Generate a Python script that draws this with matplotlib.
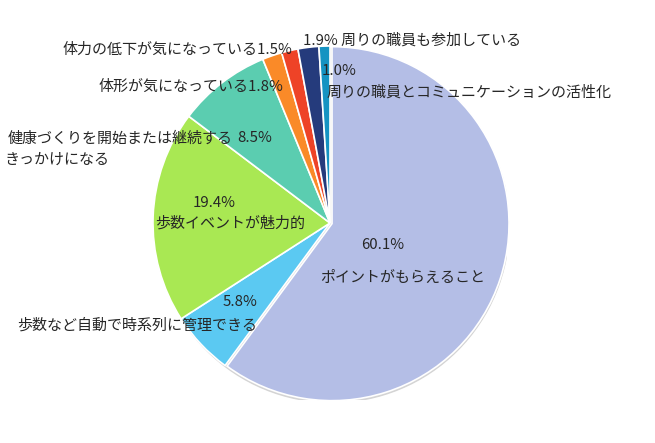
import matplotlib.pyplot as plt
from matplotlib.patches import Circle

plt.rcParams['font.family'] = ['Noto Sans CJK JP', 'DejaVu Sans']

# slices, clockwise from 12 o'clock
labels = ['ポイントがもらえること', '歩数など自動で時系列に管理できる', '歩数イベントが魅力的',
          '健康づくりを開始または継続する\nきっかけになる', '体形が気になっている',
          '体力の低下が気になっている', '周りの職員も参加している',
          '周りの職員とコミュニケーションの活性化']
values = [60.1, 5.8, 19.4, 8.5, 1.8, 1.5, 1.9, 1.0]
colors = ['#B4BEE6', '#5BC9F2', '#A9E853', '#5BCDB0', '#FA8A28', '#EE4327', '#253B7C', '#1593C2']

fig = plt.figure(figsize=(6.55, 4.43), dpi=100)
cx, cy, r = 330, 223, 177
ax = fig.add_axes([(cx - r) / 655, (443 - cy - r) / 443, 2 * r / 655, 2 * r / 443])

# soft grey shadow behind the pie
ax.add_patch(Circle((0.012, -0.014), 1.0, color='#d4d4d4', zorder=0))

explode = [0.012, 0, 0, 0, 0, 0, 0, 0]
ax.pie(values, colors=colors, startangle=90, counterclock=False, radius=1, explode=explode,
       wedgeprops=dict(edgecolor='white', linewidth=1.2))
ax.set_xlim(-1, 1)
ax.set_ylim(-1, 1)


def px(x, y):
    return (x - cx) / r, (cy - y) / r


fs = 10.8
tc = '#262626'


def put(x, y, s, ha='center'):
    dx, dy = px(x, y)
    ax.text(dx, dy, s, ha=ha, va='center', fontsize=fs, color=tc, clip_on=False)


put(383, 245, f'{values[0]}%')
put(403, 278, labels[0])
put(240, 302, f'{values[1]}%')
put(257, 325, labels[1], ha='right')
put(214, 203, f'{values[2]}%')
put(230, 223, labels[2])
put(255, 138, f'{values[3]}%')
line1, line2 = labels[3].split('\n')
put(8, 138, line1, ha='left')
put(5, 160, line2, ha='left')
put(283, 87, labels[4] + f'{values[4]}%', ha='right')
put(292, 50, labels[5] + f'{values[5]}%', ha='right')
put(303, 40, f'{values[6]}% ' + labels[6], ha='left')
put(322, 71, f'{values[7]}%', ha='left')
put(327, 92, labels[7], ha='left')

plt.savefig('out.png')
